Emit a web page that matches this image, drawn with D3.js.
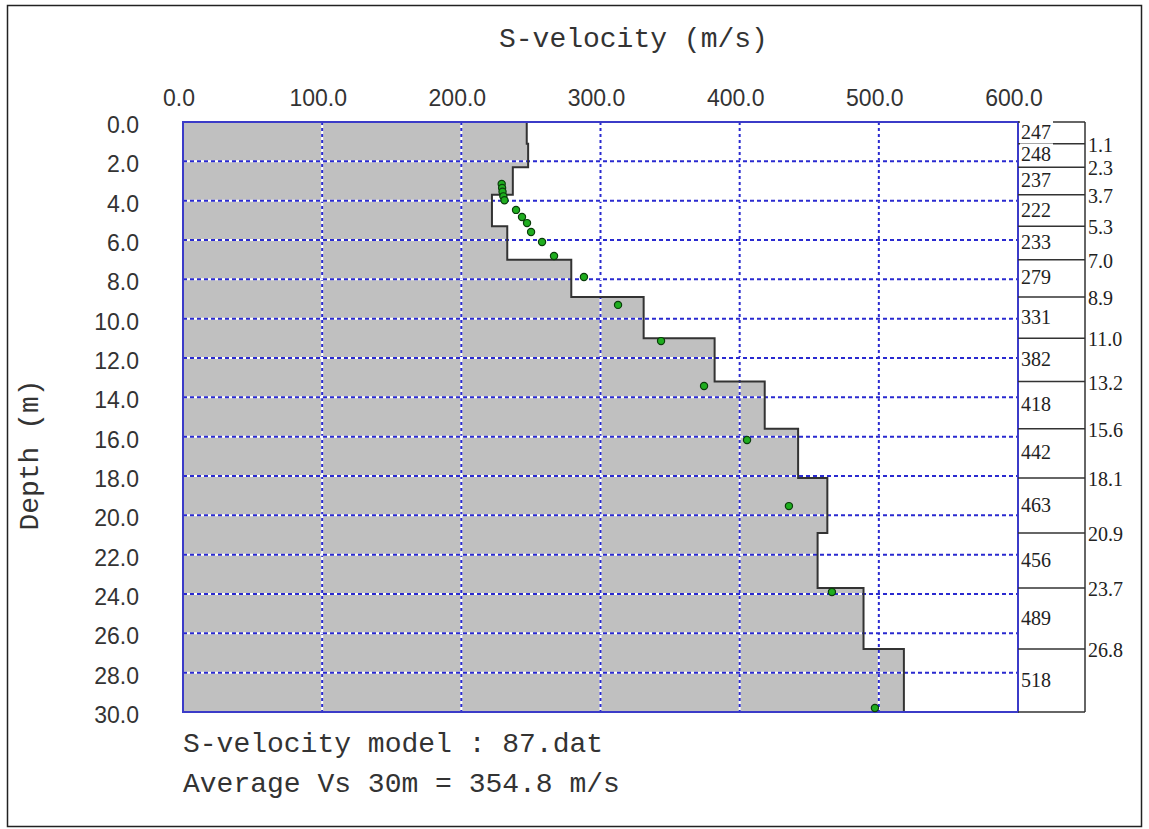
<!DOCTYPE html>
<html>
<head>
<meta charset="utf-8">
<script src="https://cdn.jsdelivr.net/npm/d3@7"></script>
<style>
  body { margin: 0; background: #fff; }
  .tick-label { font-family: "Liberation Sans", Arial, sans-serif; font-size: 23px; fill: #333; }
  .mono { font-family: "Liberation Mono", "Courier New", monospace; font-size: 28px; fill: #333; }
  .table-label { font-family: "Liberation Serif", "Times New Roman", serif; font-size: 20px; fill: #222; }
</style>
</head>
<body>
<div id="chart"></div>
<script>
// layer model
const layerTops = [0, 1.1, 2.3, 3.7, 5.3, 7.0, 8.9, 11.0, 13.2, 15.6, 18.1, 20.9, 23.7, 26.8];
const layerVs = [247, 248, 237, 222, 233, 279, 331, 382, 418, 442, 463, 456, 489, 518];
const maxDepth = 30;

// observed points (green dots)
const obsVs = [229.0, 229.3, 229.6, 230.2, 231.0, 239.3, 243.6, 247.2, 250.1, 258.0, 266.6, 288.1, 312.6, 343.5, 374.4, 405.3, 435.4, 466.3, 497.2];
const obsDepth = [3.15, 3.35, 3.55, 3.78, 3.98, 4.47, 4.83, 5.14, 5.59, 6.10, 6.81, 7.88, 9.30, 11.14, 13.42, 16.17, 19.53, 23.90, 29.80];

const velTicks = [0, 100, 200, 300, 400, 500, 600];
const depthTicks = d3.range(0, 31, 2);

const titleText = "S-velocity (m/s)";
const yTitle = "Depth (m)";
const modelText = "S-velocity model : 87.dat";
const avgText = "Average Vs 30m = 354.8 m/s";

const width = 1149;
const height = 829;
const margin = { top: 122, left: 183, right: 131, bottom: 117 };

const svg = d3.select("#chart")
              .append("svg")
              .attr("width", width)
              .attr("height", height);

const x = d3.scaleLinear().domain([0, 600]).range([margin.left, width - margin.right]);
const y = d3.scaleLinear().domain([0, maxDepth]).range([margin.top, height - margin.bottom]);

// outer frame
svg.append("rect")
   .attr("x", 7.5).attr("y", 5.5)
   .attr("width", width - 15).attr("height", height - 8)
   .attr("fill", "#fff")
   .attr("stroke", "#222")
   .attr("stroke-width", 1.5);

// build layers
const layers = layerVs.map((v, i) => ({
  v: v,
  top: layerTops[i],
  bottom: i + 1 < layerTops.length ? layerTops[i + 1] : maxDepth
}));

// step profile points
const stepPts = [];
layers.forEach(l => {
  stepPts.push([l.v, l.top]);
  stepPts.push([l.v, l.bottom]);
});

const areaPts = [[0, 0]].concat(stepPts).concat([[0, maxDepth]]);

svg.append("path")
   .attr("d", d3.line().x(d => x(d[0])).y(d => y(d[1]))(areaPts) + "Z")
   .attr("fill", "#c0c0c0");

// grid
const grid = svg.append("g");
velTicks.slice(1, -1).forEach(t => {
  grid.append("line")
      .attr("x1", x(t)).attr("x2", x(t))
      .attr("y1", y(0)).attr("y2", y(maxDepth))
      .attr("stroke", "#fff").attr("stroke-width", 2);
  grid.append("line")
      .attr("x1", x(t)).attr("x2", x(t))
      .attr("y1", y(0)).attr("y2", y(maxDepth))
      .attr("stroke", "#2a2ad0").attr("stroke-width", 2)
      .attr("stroke-dasharray", "3,3");
});
depthTicks.slice(1, -1).forEach(t => {
  grid.append("line")
      .attr("x1", x(0)).attr("x2", x(600))
      .attr("y1", y(t)).attr("y2", y(t))
      .attr("stroke", "#fff").attr("stroke-width", 2);
  grid.append("line")
      .attr("x1", x(0)).attr("x2", x(600))
      .attr("y1", y(t)).attr("y2", y(t))
      .attr("stroke", "#2a2ad0").attr("stroke-width", 2)
      .attr("stroke-dasharray", "4,3");
});

// step line
svg.append("path")
   .attr("d", d3.line().x(d => x(d[0])).y(d => y(d[1]))(stepPts))
   .attr("fill", "none")
   .attr("stroke", "#333")
   .attr("stroke-width", 2);

// plot border
svg.append("rect")
   .attr("x", x(0)).attr("y", y(0))
   .attr("width", x(600) - x(0)).attr("height", y(maxDepth) - y(0))
   .attr("fill", "none")
   .attr("stroke", "#3b3bc8")
   .attr("stroke-width", 2);

// observed dots
svg.selectAll("circle.obs")
   .data(obsVs.map((v, i) => [v, obsDepth[i]]))
   .enter()
   .append("circle")
   .attr("class", "obs")
   .attr("cx", d => x(d[0]))
   .attr("cy", d => y(d[1]))
   .attr("r", 3.6)
   .attr("fill", "#1fae1f")
   .attr("stroke", "#0b3d0b")
   .attr("stroke-width", 1.2);

// tick labels
svg.selectAll("text.xtick")
   .data(velTicks)
   .enter()
   .append("text")
   .attr("class", "tick-label")
   .attr("x", d => x(d) - 4)
   .attr("y", y(0) - 16)
   .attr("text-anchor", "middle")
   .text(d => d.toFixed(1));

svg.selectAll("text.ytick")
   .data(depthTicks)
   .enter()
   .append("text")
   .attr("class", "tick-label")
   .attr("x", margin.left - 44)
   .attr("y", d => y(d) + 11)
   .attr("text-anchor", "end")
   .text(d => d.toFixed(1));

// titles
svg.append("text")
   .attr("class", "mono")
   .attr("x", 499).attr("y", 47)
   .text(titleText);

svg.append("text")
   .attr("class", "mono")
   .attr("transform", "translate(38,455) rotate(-90)")
   .attr("text-anchor", "middle")
   .text(yTitle);

svg.append("text")
   .attr("class", "mono")
   .attr("x", margin.left).attr("y", 752)
   .text(modelText);

svg.append("text")
   .attr("class", "mono")
   .attr("x", margin.left).attr("y", 792)
   .text(avgText);

// layer table on the right
const tableRight = 1085;
const table = svg.append("g");

table.append("line")
     .attr("x1", tableRight).attr("x2", tableRight)
     .attr("y1", y(0)).attr("y2", y(maxDepth))
     .attr("stroke", "#333").attr("stroke-width", 1.5);

layerTops.concat([maxDepth]).forEach(d => {
  table.append("line")
       .attr("x1", x(600)).attr("x2", tableRight)
       .attr("y1", y(d)).attr("y2", y(d))
       .attr("stroke", "#333").attr("stroke-width", 1.5);
});

// velocity labels sit on opaque boxes, like the original program
layers.forEach(l => {
  const cy = (y(l.top) + y(l.bottom)) / 2 - 1;
  table.append("rect")
       .attr("x", x(600) + 2).attr("y", cy - 11)
       .attr("width", 33).attr("height", 22)
       .attr("fill", "#fff");
  table.append("text")
       .attr("class", "table-label")
       .attr("x", x(600) + 3)
       .attr("y", cy)
       .attr("dy", "0.35em")
       .text(l.v);
});

// boundary depth labels
layerTops.slice(1).forEach(d => {
  table.append("text")
       .attr("class", "table-label")
       .attr("x", tableRight + 3)
       .attr("y", y(d) + 1)
       .attr("dy", "0.35em")
       .text(d.toFixed(1));
});
</script>
</body>
</html>
